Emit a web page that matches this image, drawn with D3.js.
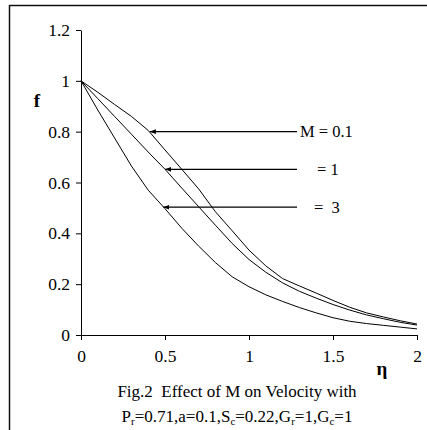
<!DOCTYPE html>
<html><head><meta charset="utf-8">
<script src="https://cdn.jsdelivr.net/npm/d3@7"></script>
<style>
html,body{margin:0;padding:0;background:#fff;}
svg{display:block;}
text{font-family:"Liberation Serif","Times New Roman",serif;fill:#000;}
</style></head>
<body>
<svg id="c" width="427" height="430"></svg>
<script>
const eta = [0,0.1,0.2,0.3,0.4,0.5,0.6,0.7,0.8,0.9,1.0,1.1,1.2,1.3,1.4,1.5,1.6,1.7,1.8,1.9,2.0];
const fM01 = [1,0.955,0.907,0.86,0.805,0.728,0.652,0.575,0.485,0.41,0.334,0.272,0.222,0.193,0.165,0.136,0.109,0.087,0.071,0.056,0.043];
const fM1  = [1,0.93,0.86,0.79,0.72,0.652,0.578,0.505,0.432,0.36,0.297,0.247,0.205,0.172,0.145,0.12,0.098,0.079,0.064,0.05,0.039];
const fM3  = [1,0.885,0.775,0.665,0.57,0.497,0.42,0.35,0.285,0.229,0.19,0.158,0.132,0.108,0.087,0.068,0.054,0.045,0.038,0.031,0.024];
const xTicks = [0,0.5,1,1.5,2];
const yTicks = [0,0.2,0.4,0.6,0.8,1,1.2];
const annoY = [0.8,0.652,0.503];
const annoTipX = [0.41,0.5,0.49];
const annoEndX = 1.286;
const annoLabels = ["M = 0.1","= 1","=  3"];

const svg = d3.select("#c");
const x = d3.scaleLinear().domain([0,2]).range([81,417]);
const y = d3.scaleLinear().domain([0,1.2]).range([335,30]);

// frame (top and left visible)
svg.append("line").attr("x1",9.5).attr("x2",427).attr("y1",5.5).attr("y2",5.5).attr("stroke","#111").attr("stroke-width",1.5);
svg.append("line").attr("x1",9.5).attr("x2",9.5).attr("y1",5).attr("y2",430).attr("stroke","#111").attr("stroke-width",1.5);

const yAxis = d3.axisLeft(y).tickValues(yTicks).tickFormat(d3.format("")).tickSize(5).tickSizeOuter(0).tickPadding(6);
const gy = svg.append("g").attr("transform","translate(81,0)").call(yAxis);
const xAxis = d3.axisBottom(x).tickValues(xTicks).tickFormat(d3.format("")).tickSize(5).tickSizeOuter(0).tickPadding(10);
const gx = svg.append("g").attr("transform","translate(0,335)").call(xAxis);
[gx,gy].forEach(g=>{
  g.selectAll("path,line").attr("stroke","#000").attr("stroke-width",1);
  g.selectAll("text").attr("font-family","Liberation Serif, serif").attr("font-size",17.5).attr("fill","#000");
});

const line = d3.line().x((d,i)=>x(eta[i])).y(d=>y(d));
[fM01,fM1,fM3].forEach(s=>{
  svg.append("path").datum(s).attr("d",line).attr("fill","none").attr("stroke","#000").attr("stroke-width",1);
});

// annotations
svg.append("defs").append("marker").attr("id","ah").attr("viewBox","0 0 10 10").attr("refX",0).attr("refY",5)
  .attr("markerWidth",5).attr("markerHeight",5).attr("orient","auto")
  .append("path").attr("d","M10,1 L0,5 L10,9 Z").attr("fill","#000");
annoY.forEach((v,i)=>{
  svg.append("line").attr("x1",x(annoTipX[i])).attr("x2",x(annoEndX)).attr("y1",y(v)).attr("y2",y(v))
    .attr("stroke","#000").attr("stroke-width",1.2).attr("marker-start","url(#ah)");
});
const labelX = [300,317,314];
annoLabels.forEach((t,i)=>{
  svg.append("text").attr("x",labelX[i]).attr("y",y(annoY[i])).attr("dy","0.35em")
    .attr("font-size",16.5).style("white-space","pre").attr("xml:space","preserve").text(t);
});

svg.append("text").attr("x",37).attr("y",100).attr("dy","0.35em").attr("text-anchor","middle")
  .attr("font-size",19).attr("font-weight","bold").text("f");
svg.append("text").attr("x",382).attr("y",368).attr("dy","0.35em").attr("text-anchor","middle")
  .attr("font-size",19).attr("font-weight","bold").attr("font-family","DejaVu Sans, sans-serif").text("η");

// caption
svg.append("text").attr("x",237).attr("y",391).attr("dy","0.35em").attr("text-anchor","middle")
  .attr("font-size",17).attr("xml:space","preserve").style("white-space","pre").text("Fig.2  Effect of M on Velocity with");
const cap = svg.append("text").attr("x",237).attr("y",416).attr("dy","0.35em").attr("text-anchor","middle").attr("font-size",17);
const parts = [["P",""],["r","s"],["=0.71,a=0.1,S",""],["c","s"],["=0.22,G",""],["r","s"],["=1,G",""],["c","s"],["=1",""]];
parts.forEach(p=>{
  const ts = cap.append("tspan").text(p[0]);
  if(p[1]==="s"){ ts.attr("baseline-shift","-25%").attr("font-size",11); }
});
</script>
</body></html>
